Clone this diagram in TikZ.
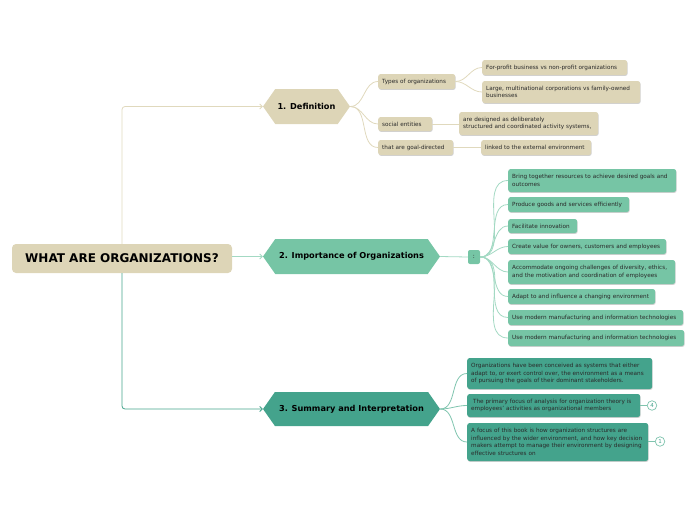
\documentclass[tikz,border=0pt]{standalone}
\usepackage{fontspec}
\setmainfont{DejaVu Sans}
\usetikzlibrary{shapes.symbols,shadows,arrows.meta}
\definecolor{beige}{HTML}{DDD5B7}
\definecolor{beigeline}{HTML}{E0D9BD}
\definecolor{mint}{HTML}{76C5A5}
\definecolor{mintline}{HTML}{A3D9C3}
\definecolor{tealc}{HTML}{44A38C}
\definecolor{tealline}{HTML}{7FC4AE}
\definecolor{txt}{HTML}{2A2A2A}
\tikzset{
  leaf/.style={anchor=west, rounded corners=2.5pt, inner xsep=4pt, inner ysep=1.5pt,
    align=left, font=\fontsize{5.7}{7.7}\selectfont, text=txt,
    drop shadow={shadow xshift=0.5pt, shadow yshift=-0.9pt, opacity=0.3, fill=black!60}},
  bleaf/.style={leaf, fill=beige},
  mleaf/.style={leaf, fill=mint},
  tleaf/.style={leaf, fill=tealc},
  hexa/.style={shape=signal, signal to=west and east, signal pointer angle=110,
    inner sep=0pt, font=\bfseries\fontsize{8.2}{10}\selectfont, text=black},
  bcon/.style={draw=beigeline, line width=0.8pt},
  mcon/.style={draw=mintline, line width=0.8pt},
  tcon/.style={draw=tealline, line width=0.8pt},
  circ/.style={circle, draw=tealline, line width=0.7pt, fill=white, text=tealc,
    minimum size=9.5pt, inner sep=0pt, font=\fontsize{5.5}{6}\selectfont},
  arr/.style={-{Straight Barb[length=2.5pt,width=5pt]}, rounded corners=3pt, line width=0.8pt},
}
\begin{document}
\begin{tikzpicture}[x=1pt,y=-1pt]
\useasboundingbox (0,0) rectangle (696,520);
% root
\node[fill=beige, rounded corners=4pt, minimum width=220pt, minimum height=29pt, inner sep=0pt,
  font=\bfseries\fontsize{12}{14}\selectfont, text=black] (root) at (122,258.5) {WHAT ARE ORGANIZATIONS?};
% main sections
\node[hexa, fill=beige, minimum width=87pt, minimum height=35pt] (def) at (306.5,106.5) {1. Definition};
\node[hexa, fill=mint, minimum width=177pt, minimum height=35pt] (imp) at (351.5,256.5) {2. Importance of Organizations};
\node[hexa, fill=tealc, minimum width=177pt, minimum height=34pt] (sum) at (351.5,409) {3. Summary and Interpretation};
\draw[arr, draw=beigeline] (root.north) |- (def.west);
\draw[arr, draw=mintline] (root.east |- imp.west) -- (imp.west);
\draw[arr, draw=tealc] (root.south) |- (sum.west);
% definition
\node[bleaf, text width=69pt, minimum height=15pt] (t1) at (378,81.5) {Types of organizations};
\node[bleaf, text width=46pt, minimum height=14pt] (t2) at (378,124) {social entities};
\node[bleaf, text width=67pt, minimum height=15pt] (t3) at (378,147.5) {that are goal-directed};
\node[bleaf, text width=137pt, minimum height=15pt] (t1a) at (482,67.5) {For-profit business vs non-profit organizations};
\node[bleaf, text width=150pt, minimum height=22pt] (t1b) at (482,92) {Large, multinational corporations vs family-owned\\businesses};
\node[bleaf, text width=131pt, minimum height=23pt] (t2a) at (459,123.5) {are designed as deliberately\\structured and coordinated activity systems,};
\node[bleaf, text width=102pt, minimum height=15pt] (t3a) at (481,147.5) {linked to the external environment};
\foreach \c in {t1,t2,t3} \draw[bcon] (def.east) to[out=0,in=180] (\c.west);
\foreach \c in {t1a,t1b} \draw[bcon] (t1.east) to[out=0,in=180] (\c.west);
\draw[bcon] (t2.east) -- (t2a.west |- t2.east);
\draw[bcon] (t3.east) -- (t3a.west);
% importance
\node[fill=mint, rounded corners=2pt, minimum width=12pt, minimum height=14pt, inner sep=0pt,
  font=\fontsize{6}{7}\selectfont, text=txt] (colon) at (474,257) {:};
\draw[mcon] (imp.east) -- (colon.west);
\node[mleaf, text width=160pt, minimum height=23pt] (i1) at (508,180.5) {Bring together resources to achieve desired goals and\\outcomes};
\node[mleaf, text width=113pt, minimum height=15pt] (i2) at (508,204.5) {Produce goods and services efficiently};
\node[mleaf, text width=61pt, minimum height=14pt] (i3) at (508,226) {Facilitate innovation};
\node[mleaf, text width=150pt, minimum height=15pt] (i4) at (508,246.5) {Create value for owners, customers and employees};
\node[mleaf, text width=159pt, minimum height=24pt] (i5) at (508,272) {Accommodate ongoing challenges of diversity, ethics,\\and the motivation and coordination of employees};
\node[mleaf, text width=139pt, minimum height=15pt] (i6) at (508,296.5) {Adapt to and influence a changing environment};
\node[mleaf, text width=167pt, minimum height=15pt] (i7) at (508,317.5) {Use modern manufacturing and information technologies};
\node[mleaf, text width=168pt, minimum height=16pt] (i8) at (508,338) {Use modern manufacturing and information technologies};
\foreach \c in {i1,i2,i3,i4,i5,i6,i7,i8} \draw[mcon] (colon.east) to[out=0,in=180] (\c.west);
% summary
\node[tleaf, text width=177pt, minimum height=31pt] (s1) at (467,373.5) {Organizations have been conceived as systems that either\\adapt to, or exert control over, the environment as a means\\of pursuing the goals of their dominant stakeholders.};
\node[tleaf, text width=165pt, minimum height=23pt] (s2) at (467,405.5) {\ The primary focus of analysis for organization theory is\\employees' activities as organizational members};
\node[tleaf, text width=173pt, minimum height=38pt] (s3) at (467,442) {A focus of this book is how organization structures are\\influenced by the wider environment, and how key decision\\makers attempt to manage their environment by designing\\effective structures on};
\foreach \c in {s1,s2,s3} \draw[tcon] (sum.east) to[out=0,in=180] (\c.west);
\node[circ] (c4) at (652,405.5) {4};
\node[circ] (c1) at (660,441.5) {1};
\draw[tcon] (s2.east) -- (c4.west);
\draw[tcon] (s3.east |- c1.west) -- (c1.west);
\end{tikzpicture}
\end{document}
